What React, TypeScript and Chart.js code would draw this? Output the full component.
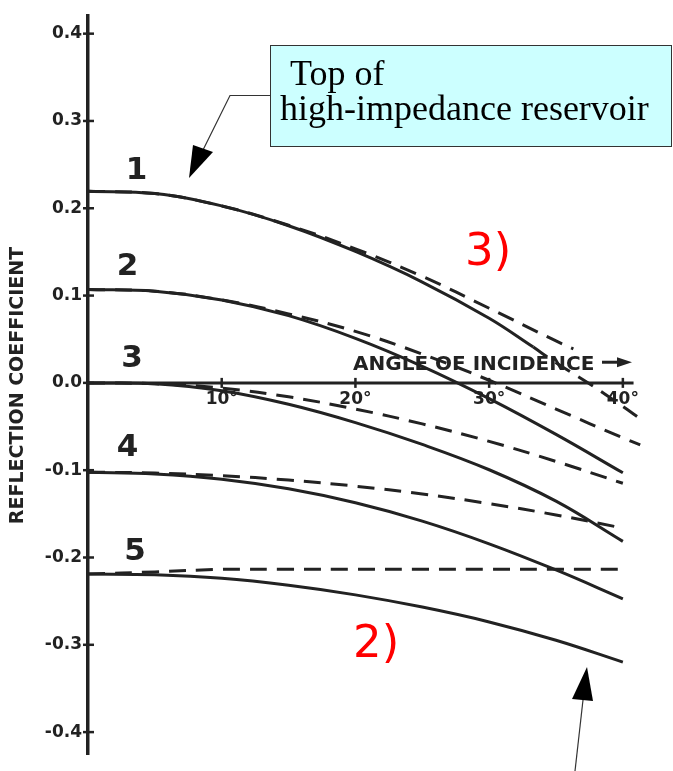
import React, { useEffect, useRef } from 'react';
import { Chart, registerables } from 'chart.js';

Chart.register(...registerables);

// ---- data (angle of incidence in degrees, reflection coefficient) ----
const ANGLES = [0, 5, 10, 15, 20, 25, 30, 35, 40];

const CURVE1_SOLID_ANGLES = [0, 5, 10, 15, 20, 25, 30, 33.3];
const CURVE1_SOLID = [0.2195, 0.2168, 0.2027, 0.18, 0.1505, 0.1155, 0.074, 0.041];
const CURVE1_TAIL_ANGLES = [33.3, 35, 37.5, 40, 41.3];
const CURVE1_TAIL = [0.041, 0.023, -0.001, -0.027, -0.041];
const CURVE1_DASHED_ANGLES = [0, 5, 10, 15, 20, 25, 30, 35, 36.3];
const CURVE1_DASHED = [0.2195, 0.2168, 0.2027, 0.1805, 0.1535, 0.122, 0.0855, 0.048, 0.039];

const CURVE2_SOLID = [0.107, 0.105, 0.095, 0.077, 0.051, 0.019, -0.018, -0.059, -0.103];
const CURVE2_DASHED_ANGLES = [0, 5, 10, 15, 20, 25, 30, 35, 40, 41.3];
const CURVE2_DASHED = [0.107, 0.105, 0.095, 0.079, 0.059, 0.033, 0.003, -0.03, -0.063, -0.071];

const CURVE3_SOLID = [0, -0.001, -0.009, -0.0245, -0.0455, -0.0705, -0.0995, -0.1355, -0.1815];
const CURVE3_DASHED = [0, -0.001, -0.006, -0.016, -0.03, -0.047, -0.067, -0.09, -0.115];

const CURVE4_SOLID = [-0.1023, -0.1043, -0.1103, -0.1213, -0.1373, -0.1583, -0.1843, -0.2143, -0.2473];
const CURVE4_DASHED = [-0.1023, -0.1033, -0.1063, -0.1113, -0.1183, -0.1273, -0.1383, -0.1513, -0.1663];

const CURVE5_SOLID = [-0.219, -0.2198, -0.2238, -0.2318, -0.2428, -0.2568, -0.2738, -0.2948, -0.3198];
const CURVE5_DASHED = [-0.219, -0.2165, -0.2136, -0.2136, -0.2136, -0.2136, -0.2136, -0.2136, -0.2136];

const X_TICKS = [10, 20, 30, 40];
const Y_TICKS = [-0.4, -0.3, -0.2, -0.1, 0, 0.1, 0.2, 0.3, 0.4];
const CURVE_LABELS = ['1', '2', '3', '4', '5'];
const Y_TITLE = 'REFLECTION COEFFICIENT';
const X_TITLE = 'ANGLE OF INCIDENCE';
const CALLOUT_LINES = [' Top of', 'high-impedance reservoir'];
const RED_LABELS = ['3)', '2)'];

const INK = '#222222';

const pts = (xs: number[], ys: number[]) => xs.map((a, i) => ({ x: a, y: ys[i] }));

const solid = (data: any) => ({
  data,
  borderColor: INK,
  borderWidth: 3,
  pointRadius: 0,
  fill: false,
  tension: 0.4,
});
const dashed = (data: any) => ({ ...solid(data), borderDash: [17, 10] });

const decorPlugin = {
  id: 'decor',
  beforeDatasetsDraw(chart: any) {
    const { ctx, scales } = chart;
    const xs = scales.x;
    const ys = scales.y;
    const y0 = ys.getPixelForValue(0);
    const x0 = xs.getPixelForValue(0);
    ctx.save();
    ctx.strokeStyle = INK;
    ctx.lineCap = 'butt';
    // horizontal axis line
    ctx.lineWidth = 3;
    ctx.beginPath();
    ctx.moveTo(x0, y0);
    ctx.lineTo(xs.getPixelForValue(40.8), y0);
    ctx.stroke();
    // x tick marks
    ctx.lineWidth = 2.5;
    X_TICKS.forEach((v) => {
      const px = xs.getPixelForValue(v);
      ctx.beginPath();
      ctx.moveTo(px, y0 - 5);
      ctx.lineTo(px, y0 + 5);
      ctx.stroke();
    });
    // y tick marks
    Y_TICKS.forEach((v) => {
      const py = ys.getPixelForValue(v);
      ctx.beginPath();
      ctx.moveTo(x0 - 5, py);
      ctx.lineTo(x0 + 6, py);
      ctx.stroke();
    });
    ctx.restore();
  },
  afterDraw(chart: any) {
    const { ctx, scales } = chart;
    const xs = scales.x;
    const ys = scales.y;
    const P = (a: number, v: number) => [xs.getPixelForValue(a), ys.getPixelForValue(v)];
    ctx.save();

    // curve numbers
    ctx.fillStyle = INK;
    ctx.font = 'bold 31px "DejaVu Sans"';
    ctx.textAlign = 'center';
    ctx.textBaseline = 'alphabetic';
    const labelPos = [
      [3.63, 0.2336],
      [2.95, 0.1235],
      [3.29, 0.0178],
      [2.95, -0.0834],
      [3.52, -0.2024],
    ];
    CURVE_LABELS.forEach((t, i) => {
      const [px, py] = P(labelPos[i][0], labelPos[i][1]);
      ctx.fillText(t, px, py);
    });

    // title along the angle axis
    ctx.font = 'bold 20px "DejaVu Sans"';
    ctx.textAlign = 'left';
    const [tx, ty] = P(19.82, 0.0145);
    ctx.fillText(X_TITLE, tx, ty);
    const ay = ty - 8;
    ctx.strokeStyle = INK;
    ctx.lineWidth = 3;
    ctx.beginPath();
    ctx.moveTo(602, ay);
    ctx.lineTo(622, ay);
    ctx.stroke();
    ctx.beginPath();
    ctx.moveTo(617, ay - 5);
    ctx.lineTo(632, ay);
    ctx.lineTo(617, ay + 5);
    ctx.closePath();
    ctx.fill();

    // red annotations
    ctx.fillStyle = '#ff0000';
    ctx.font = '45px "DejaVu Sans"';
    ctx.textAlign = 'left';
    let [rx, ry] = P(28.2, 0.1346);
    ctx.fillText(RED_LABELS[0], rx, ry);
    [rx, ry] = P(19.82, -0.3137);
    ctx.fillText(RED_LABELS[1], rx, ry);

    // callout box
    ctx.fillStyle = '#ccffff';
    ctx.fillRect(270, 45, 402, 102);
    ctx.strokeStyle = '#333';
    ctx.lineWidth = 1;
    ctx.strokeRect(270.5, 45.5, 401, 101);
    ctx.fillStyle = '#000';
    ctx.font = '36px "Liberation Serif"';
    ctx.fillText(CALLOUT_LINES[0], 281, 85);
    ctx.fillText(CALLOUT_LINES[1], 280, 120);

    // leader from callout to curve 1
    ctx.strokeStyle = '#333';
    ctx.lineWidth = 1.2;
    ctx.beginPath();
    ctx.moveTo(270, 95.5);
    ctx.lineTo(230, 95.5);
    ctx.lineTo(203, 150);
    ctx.stroke();
    ctx.fillStyle = '#000';
    ctx.beginPath();
    ctx.moveTo(193, 145);
    ctx.lineTo(213, 152);
    ctx.lineTo(189, 178);
    ctx.closePath();
    ctx.fill();

    // arrow at bottom pointing to curve 5
    ctx.beginPath();
    ctx.moveTo(575, 771);
    ctx.lineTo(583, 700);
    ctx.stroke();
    ctx.beginPath();
    ctx.moveTo(572, 699);
    ctx.lineTo(593, 701);
    ctx.lineTo(587, 667);
    ctx.closePath();
    ctx.fill();

    ctx.restore();
  },
};

export default function App() {
  const ref = useRef<HTMLCanvasElement | null>(null);

  useEffect(() => {
    if (!ref.current) return;
    const chart = new Chart(ref.current, {
      type: 'line',
      data: {
        datasets: [
          solid(pts(CURVE1_SOLID_ANGLES, CURVE1_SOLID)),
          dashed(pts(CURVE1_TAIL_ANGLES, CURVE1_TAIL)),
          dashed(pts(CURVE1_DASHED_ANGLES, CURVE1_DASHED)),
          solid(pts(ANGLES, CURVE2_SOLID)),
          dashed(pts(CURVE2_DASHED_ANGLES, CURVE2_DASHED)),
          solid(pts(ANGLES, CURVE3_SOLID)),
          dashed(pts(ANGLES, CURVE3_DASHED)),
          solid(pts(ANGLES, CURVE4_SOLID)),
          dashed(pts(ANGLES, CURVE4_DASHED)),
          solid(pts(ANGLES, CURVE5_SOLID)),
          dashed(pts(ANGLES, CURVE5_DASHED)),
        ] as any,
      },
      options: {
        animation: false,
        responsive: false,
        devicePixelRatio: 1,
        layout: { padding: { top: 10, left: 0, right: 0, bottom: 0 } },
        plugins: { legend: { display: false }, tooltip: { enabled: false } },
        scales: {
          x: {
            type: 'linear',
            min: 0,
            max: 43.75,
            position: { y: 0 } as any,
            afterBuildTicks: (s: any) => {
              s.ticks = X_TICKS.map((v) => ({ value: v }));
            },
            grid: { display: false, drawTicks: false },
            border: { display: false },
            ticks: {
              autoSkip: false,
              maxRotation: 0,
              padding: 6,
              color: INK,
              font: { family: 'DejaVu Sans', size: 17, weight: 'bold' },
              callback: (v: any) => `${v}°`,
            },
          },
          y: {
            type: 'linear',
            min: -0.426,
            max: 0.42,
            afterFit: (s: any) => {
              s.width = 88;
            },
            afterBuildTicks: (s: any) => {
              s.ticks = Y_TICKS.map((v) => ({ value: v }));
            },
            grid: { display: false, drawTicks: false },
            border: { display: true, color: INK, width: 3.5 },
            ticks: {
              padding: 6,
              color: INK,
              font: { family: 'DejaVu Sans', size: 17, weight: 'bold' },
              callback: (v: any) => Number(v).toFixed(1),
            },
            title: {
              display: true,
              text: Y_TITLE,
              color: INK,
              font: { family: 'DejaVu Sans', size: 19, weight: 'bold' },
              padding: { top: 7, bottom: 0 },
            },
          },
        },
      },
      plugins: [decorPlugin],
    });
    return () => chart.destroy();
  }, []);

  return (
    <div style={{ position: 'fixed', left: 0, top: 0, width: 673, height: 771, background: '#fff' }}>
      <canvas ref={ref} width={673} height={771} style={{ display: 'block' }} />
    </div>
  );
}
